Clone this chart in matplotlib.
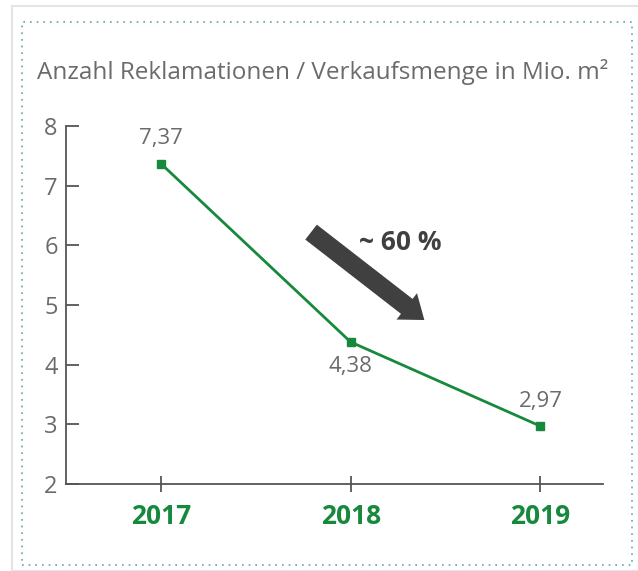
import matplotlib
matplotlib.use('Agg')
import matplotlib.pyplot as plt
from matplotlib.patches import Rectangle

# Data
years = [2017, 2018, 2019]
values = [7.37, 4.38, 2.97]
value_labels = ['7,37', '4,38', '2,97']
label_offsets = [1, -1, 1]  # above / below point
yticks = [2, 3, 4, 5, 6, 7, 8]

green = '#17893c'
grey_text = '#6b6b6b'
axis_col = '#555555'

plt.rcParams['font.family'] = ['Open Sans', 'DejaVu Sans']

fig = plt.figure(figsize=(6.38, 5.71), dpi=100)
fig.patch.set_facecolor('white')

# light outer frame and dotted inner border
fig.patches.append(Rectangle((12 / 638, 0), 1, 1 - 6 / 571, transform=fig.transFigure,
                             fill=False, edgecolor='#e4e4e4', linewidth=1.5))
fig.patches.append(Rectangle((22 / 638, 6 / 571), 610 / 638, 543 / 571, transform=fig.transFigure,
                             fill=False, edgecolor='#5fa8a0', linewidth=1.2, linestyle=(0, (1, 3))))

ax = fig.add_axes([66 / 638, 1 - 484 / 571, 537 / 638, 358 / 571])
ax.plot(years, values, color=green, linewidth=2, marker='s', markersize=6, clip_on=False)

for x, v, lab, off in zip(years, values, value_labels, label_offsets):
    ax.annotate(lab, (x, v), xytext=(0, 18 * off), textcoords='offset points',
                ha='center', va='center', fontsize=16, color=grey_text)

ax.set_xlim(2016.5, 2019.33)
ax.set_ylim(2, 8)
ax.set_xticks(years)
ax.set_xticklabels([str(y) for y in years], fontsize=19, fontweight='bold', color=green)
ax.set_yticks(yticks)
ax.set_yticklabels([str(t) for t in yticks], fontsize=17, color=grey_text)

for s in ['top', 'right']:
    ax.spines[s].set_visible(False)
for s in ['left', 'bottom']:
    ax.spines[s].set_color(axis_col)
    ax.spines[s].set_linewidth(1.3)
ax.tick_params(axis='y', direction='in', length=9, width=1.3, color=axis_col, pad=6)
ax.tick_params(axis='x', direction='inout', length=12, width=1.3, color=axis_col, pad=8)

# trend arrow
ax.annotate('', xy=(2018.40, 4.72), xytext=(2017.78, 6.25),
            arrowprops=dict(arrowstyle='simple,head_length=1.0,head_width=1.5,tail_width=0.85',
                            color='#404040', lw=0, mutation_scale=16))
ax.text(2018.26, 6.04, '~ 60 %', fontsize=19, fontweight='bold', color='#404040',
        ha='center', va='center')

fig.text(37 / 638, 1 - 72 / 571, 'Anzahl Reklamationen / Verkaufsmenge in Mio. m²',
         fontsize=17.5, color=grey_text, ha='left', va='center')

fig.savefig('out.png', dpi=100)
